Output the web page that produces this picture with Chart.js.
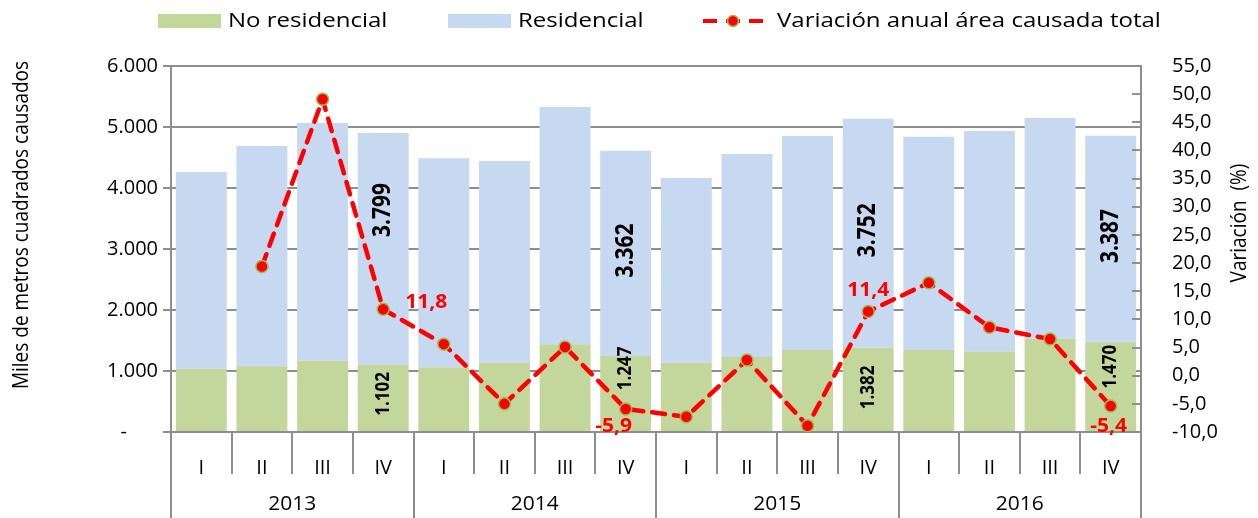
<!DOCTYPE html>
<html lang="es">
<head>
    <meta charset="UTF-8" />
    <title>Área causada - variación anual</title>
    <script src="https://cdn.jsdelivr.net/npm/chart.js"></script>
    <style>
        body { margin: 0; background: #fff; }
    </style>
</head>
<body>
<canvas id="areaChart" width="1258" height="518"></canvas>

<script>
    // Values
    const quarters = ["I", "II", "III", "IV", "I", "II", "III", "IV",
                      "I", "II", "III", "IV", "I", "II", "III", "IV"];
    const years = ["2013", "2014", "2015", "2016"];
    const noResidencial = [1038, 1077, 1169, 1102, 1060, 1137, 1437, 1247,
                           1136, 1230, 1344, 1382, 1344, 1317, 1530, 1470];
    const residencial = [3224, 3612, 3897, 3799, 3427, 3306, 3891, 3362,
                         3028, 3327, 3508, 3752, 3497, 3617, 3618, 3387];
    const variacion = [null, 19.4, 49.1, 11.8, 5.6, -5.0, 5.1, -5.9,
                       -7.3, 2.8, -8.9, 11.4, 16.5, 8.6, 6.5, -5.4];
    const labelled = [3, 7, 11, 15];

    const GREEN = "#c3d69b";
    const BLUE = "#c6d9f1";
    const RED = "#ff0000";
    const GRID = "#8e8e8e";
    const FONT = "'Open Sans', 'Liberation Sans', sans-serif";

    // pixel nudges for the value labels (same as the hand-placed ones in the original)
    const resShift = [-39, -3, -3, -3];
    const noResShift = [-4, -25, -2, -20];
    const varShift = [[22, -7, "left"], [-12, 17, "center"], [0, -21, "center"], [-2, 20, "center"]];

    const miles = v => Math.round(v).toString().replace(/\B(?=(\d{3})+(?!\d))/g, ".");
    const coma = v => v.toFixed(1).replace(".", ",");

    function drawText(ctx, str, x, y, o) {
        ctx.save();
        ctx.translate(x, y);
        ctx.scale(o.sx || 1, 1);
        if (o.rotate) ctx.rotate(-Math.PI / 2);
        ctx.font = o.font;
        ctx.fillStyle = o.color || "#000";
        ctx.textAlign = o.align || "center";
        ctx.textBaseline = "middle";
        ctx.fillText(str, 0, 0);
        ctx.restore();
    }

    const decor = {
        id: "decor",
        afterDraw(chart) {
            const ctx = chart.ctx;
            const a = chart.chartArea;
            const y1 = chart.scales.y1;
            const w = (a.right - a.left) / quarters.length;

            // category separators, long ones between years
            ctx.save();
            ctx.strokeStyle = GRID;
            ctx.lineWidth = 2;
            for (let k = 0; k <= quarters.length; k++) {
                const px = Math.round(a.left + k * w);
                ctx.beginPath();
                ctx.moveTo(px, a.bottom);
                ctx.lineTo(px, k % 4 === 0 ? chart.height : a.bottom + 42);
                ctx.stroke();
            }
            // inner tick marks on the right axis
            y1.ticks.forEach(t => {
                const py = Math.round(y1.getPixelForValue(t.value));
                ctx.beginPath();
                ctx.moveTo(a.right - 9, py);
                ctx.lineTo(a.right, py);
                ctx.stroke();
            });
            ctx.restore();

            years.forEach((yr, i) => {
                drawText(ctx, yr, a.left + (i * 4 + 2) * w, 504, { font: "20px " + FONT, sx: 1.05 });
            });

            // axis titles
            drawText(ctx, "Miles de metros cuadrados causados", 22, 225,
                { font: "19px " + FONT, rotate: true, sx: 1.15 });
            drawText(ctx, "Variación  (%)", 1240, 223,
                { font: "19px " + FONT, rotate: true, sx: 1.15 });

            // value labels
            const m0 = chart.getDatasetMeta(0).data;
            const m1 = chart.getDatasetMeta(1).data;
            const m2 = chart.getDatasetMeta(2).data;
            labelled.forEach((i, n) => {
                const r = m1[i];
                drawText(ctx, miles(residencial[i]), r.x, (r.y + r.base) / 2 + resShift[n],
                    { font: "bold 21px " + FONT, rotate: true, sx: 1.15 });
                const g = m0[i];
                drawText(ctx, miles(noResidencial[i]), g.x, (g.y + g.base) / 2 + noResShift[n],
                    { font: "bold 17px " + FONT, rotate: true, sx: 1.15 });
                const p = m2[i];
                const s = varShift[n];
                drawText(ctx, coma(variacion[i]), p.x + s[0], p.y + s[1],
                    { font: "bold 20px " + FONT, color: RED, align: s[2], sx: 1.05 });
            });

            // legend
            ctx.save();
            ctx.fillStyle = GREEN;
            ctx.fillRect(158, 14, 63, 14);
            ctx.fillStyle = BLUE;
            ctx.fillRect(448, 14, 63, 14);
            ctx.strokeStyle = RED;
            ctx.lineWidth = 4;
            ctx.setLineDash([14, 9]);
            ctx.beginPath();
            ctx.moveTo(703, 21);
            ctx.lineTo(763, 21);
            ctx.stroke();
            ctx.setLineDash([]);
            ctx.beginPath();
            ctx.arc(733, 21, 5.5, 0, Math.PI * 2);
            ctx.fillStyle = RED;
            ctx.fill();
            ctx.lineWidth = 1.5;
            ctx.strokeStyle = "#9bbb59";
            ctx.stroke();
            ctx.restore();
            const lf = { font: "20px " + FONT, align: "left", sx: 1.2 };
            drawText(ctx, "No residencial", 228, 21, lf);
            drawText(ctx, "Residencial", 518, 21, lf);
            drawText(ctx, "Variación anual área causada total", 777, 21, lf);
        }
    };

    Chart.defaults.font.family = FONT;
    Chart.defaults.color = "#000";

    const ctx = document.getElementById("areaChart").getContext("2d");
    new Chart(ctx, {
        data: {
            labels: quarters,
            datasets: [
                {
                    type: "bar",
                    label: "No residencial",
                    data: noResidencial,
                    backgroundColor: GREEN,
                    yAxisID: "y",
                    order: 1,
                },
                {
                    type: "bar",
                    label: "Residencial",
                    data: residencial,
                    backgroundColor: BLUE,
                    yAxisID: "y",
                    order: 2,
                },
                {
                    type: "line",
                    label: "Variación anual área causada total",
                    data: variacion,
                    yAxisID: "y1",
                    borderColor: RED,
                    borderWidth: 4.5,
                    borderDash: [13, 9],
                    borderCapStyle: "round",
                    tension: 0,
                    pointRadius: 6,
                    pointBackgroundColor: RED,
                    pointBorderColor: "#9bbb59",
                    pointBorderWidth: 1.5,
                    order: 0,
                },
            ],
        },
        options: {
            responsive: false,
            animation: false,
            layout: { padding: { top: 66, left: 0, right: 0, bottom: 0 } },
            datasets: { bar: { categoryPercentage: 1, barPercentage: 0.84 } },
            plugins: { legend: { display: false }, tooltip: { enabled: false } },
            scales: {
                x: {
                    stacked: true,
                    grid: { display: false },
                    border: { display: true, color: GRID, width: 2 },
                    ticks: { autoSkip: false, maxRotation: 0, padding: 16, font: { size: 20 } },
                    afterFit: s => { s.height = 86; },
                },
                y: {
                    stacked: true,
                    position: "left",
                    min: 0,
                    max: 6000,
                    grid: { color: GRID, lineWidth: 2, tickLength: 8 },
                    border: { display: true, color: GRID, width: 2 },
                    ticks: {
                        stepSize: 1000,
                        padding: 5,
                        font: { size: 20 },
                        callback: v => (v === 0 ? "-      " : miles(v)),
                    },
                    afterFit: s => { s.width = 171; },
                },
                y1: {
                    position: "right",
                    min: -10,
                    max: 55,
                    grid: { display: false },
                    border: { display: true, color: GRID, width: 2 },
                    ticks: { stepSize: 5, padding: 23, font: { size: 20 }, callback: v => coma(v) },
                    afterFit: s => { s.width = 117; },
                },
            },
        },
        plugins: [decor],
    });
</script>
</body>
</html>
